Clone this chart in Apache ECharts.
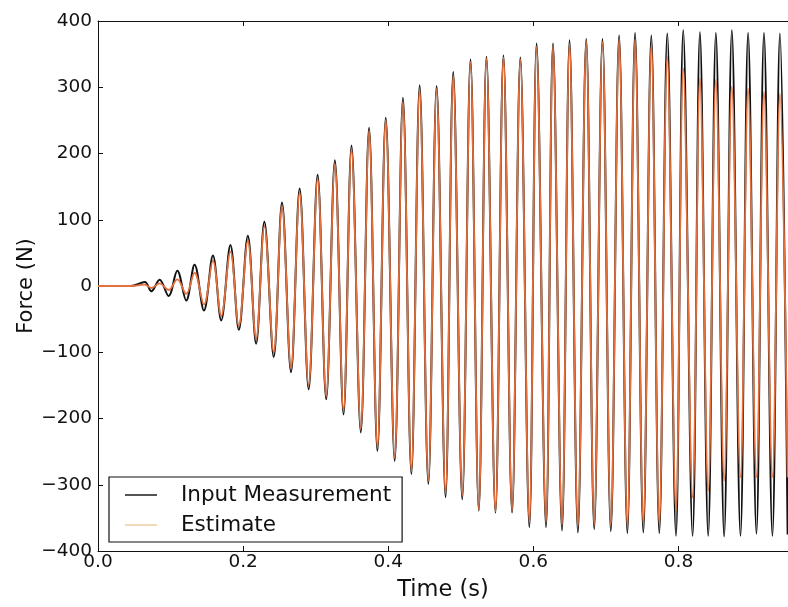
<!DOCTYPE html>
<html>
<head>
<meta charset="utf-8">
<script src="https://cdn.jsdelivr.net/npm/echarts@6/dist/echarts.min.js"></script>
<style>
html,body{margin:0;padding:0;background:#fff;}
#chart{width:788px;height:607px;}
</style>
</head>
<body>
<div id="chart"></div>
<script>
// Extremes (peaks/troughs), time in s, force in N
const measTime = [0, 0.045, 0.0645, 0.0735, 0.0849, 0.0973, 0.1093, 0.1216, 0.1331, 0.1460,
  0.1584, 0.1698, 0.1825, 0.1941, 0.2065, 0.2179, 0.2293, 0.2422, 0.2536, 0.2660,
  0.2779, 0.2903, 0.3027, 0.3145, 0.3265, 0.3384, 0.3494, 0.3622, 0.3736, 0.3851,
  0.3966, 0.4089, 0.4203, 0.4319, 0.4433, 0.4553, 0.4667, 0.4790, 0.4896, 0.5020,
  0.5134, 0.5248, 0.5354, 0.5478, 0.5588, 0.5707, 0.5821, 0.5945, 0.6045, 0.6175,
  0.6271, 0.6395, 0.6499, 0.6614, 0.6729, 0.6839, 0.6953, 0.7068, 0.7182, 0.7296,
  0.7402, 0.7516, 0.7626, 0.7736, 0.7846, 0.7966, 0.8066, 0.8195, 0.8296, 0.8410,
  0.8516, 0.8630, 0.8736, 0.8855, 0.8960, 0.9075, 0.9179, 0.9295, 0.9399, 0.9505];
const measForce = [0, 0, 6, -8, 9.5, -15, 23, -22, 32, -37,
  46, -52, 62, -66, 76, -87, 97, -107, 126, -130,
  147, -156, 168, -171, 190, -194, 212, -221, 239, -249,
  254, -264, 284, -284, 303, -299, 302, -319, 323, -322,
  342, -339, 346, -342, 348, -342, 345, -364, 366, -364,
  366, -369, 371, -372, 373, -367, 373, -370, 378, -373,
  382, -372, 378, -373, 381, -377, 386, -377, 383, -377,
  382, -378, 386, -377, 382, -374, 382, -377, 381, -375];
const estTime = measTime;
const estForce = [0, 0, 2, -3, 4, -6, 10, -12, 20, -28,
  38, -45, 52, -60, 68, -80, 90, -100, 120, -124,
  141, -150, 162, -166, 184, -188, 206, -215, 234, -243,
  250, -259, 278, -279, 296, -294, 297, -312, 317, -316,
  338, -337, 343, -340, 345, -339, 342, -356, 361, -356,
  362, -360, 365, -362, 370, -360, 368, -361, 372, -362,
  372, -359, 364, -359, 346, -339, 328, -319, 313, -309,
  311, -294, 301, -289, 298, -289, 293, -289, 290, -289];
const yTicks = [-400, -300, -200, -100, 0, 100, 200, 300, 400];
const xTicks = [0.0, 0.2, 0.4, 0.6, 0.8];
const seriesNames = ['Input Measurement', 'Estimate'];

const toPairs = (t, v) => t.map((x, i) => [x, v[i]]);
const FONT = 'DejaVu Sans';
const BLACK = '#111111';
const ORANGE = '#e4703e';
const chart = echarts.init(document.getElementById('chart'), null, {renderer: 'canvas'});
const axisCommon = {
  axisLine: {show: true, onZero: false, lineStyle: {color: '#111', width: 1}},
  splitLine: {show: false}
};
const lineIcon = 'path://M0,0 L40,0 L40,1.8 L0,1.8 Z';
chart.setOption({
  animation: false,
  backgroundColor: '#fff',
  grid: {left: 98, top: 21, bottom: 50, right: 0, containLabel: false},
  xAxis: [{
    type: 'value', min: 0, max: 0.951, interval: 0.2, position: 'bottom',
    ...axisCommon,
    axisTick: {show: true, inside: true, length: 5, lineStyle: {color: '#111'}},
    axisLabel: {
      show: true, color: '#111', fontFamily: FONT, fontSize: 18.5, margin: 2,
      showMaxLabel: false,
      formatter: v => xTicks.some(t => Math.abs(t - v) < 1e-6) ? v.toFixed(1) : ''
    },
    name: 'Time (s)', nameLocation: 'middle', nameGap: 28, nameMoveOverlap: false,
    nameTextStyle: {color: '#111', fontFamily: FONT, fontSize: 22.5}
  }, {
    type: 'value', min: 0, max: 0.951, interval: 0.2, position: 'top',
    ...axisCommon,
    axisTick: {show: true, inside: true, length: 5, lineStyle: {color: '#111'}},
    axisLabel: {show: false}
  }],
  yAxis: {
    type: 'value', min: -400, max: 400, interval: 100,
    ...axisCommon,
    axisTick: {show: true, inside: true, length: 5, lineStyle: {color: '#111'}},
    axisLabel: {
      color: '#111', fontFamily: FONT, fontSize: 18.5, margin: 6,
      formatter: v => yTicks.includes(v) ? String(v).replace('-', '\u2212') : ''
    },
    name: 'Force (N)', nameLocation: 'middle', nameGap: 61, nameRotate: 90, nameMoveOverlap: false,
    nameTextStyle: {color: '#111', fontFamily: FONT, fontSize: 21}
  },
  legend: {
    orient: 'vertical', left: 109, top: 477,
    backgroundColor: '#fff', borderColor: '#111', borderWidth: 1.2, borderRadius: 0,
    padding: [7, 11, 6, 16],
    itemWidth: 32, itemHeight: 22, itemGap: 8,
    icon: lineIcon,
    textStyle: {color: '#111', fontFamily: FONT, fontSize: 21.5, padding: [0, 0, 0, 19], lineHeight: 22},
    data: [
      {name: seriesNames[0], itemStyle: {color: BLACK}, lineStyle: {color: BLACK, width: 1.8}},
      {name: seriesNames[1], itemStyle: {color: '#f0c9a0'}, lineStyle: {color: '#f0c9a0', width: 1.8}}
    ]
  },
  series: [{
    name: seriesNames[0], type: 'line', symbol: 'none', smooth: 0.36,
    data: toPairs(measTime, measForce),
    itemStyle: {color: BLACK},
    lineStyle: {color: BLACK, width: 2}, z: 2
  }, {
    name: seriesNames[1], type: 'line', symbol: 'none', smooth: 0.36,
    data: toPairs(estTime, estForce),
    itemStyle: {color: ORANGE},
    lineStyle: {color: ORANGE, width: 1.8}, z: 3
  }]
});
</script>
</body>
</html>
